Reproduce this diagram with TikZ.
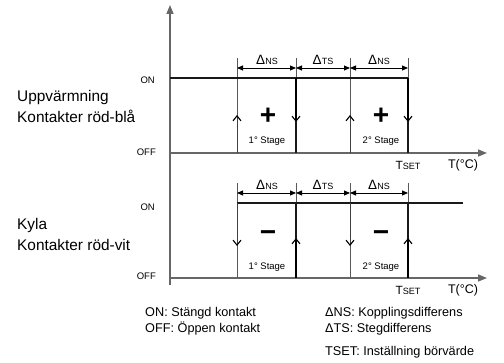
\documentclass[tikz,border=0pt]{standalone}
\usepackage{fontspec}
\setmainfont{Liberation Sans}
\usetikzlibrary{arrows.meta}
\tikzset{
  axisline/.style={draw=black!60, line width=1.5pt, -{Triangle[length=9pt,width=7pt]}},
  guide/.style={draw=black!65, line width=0.7pt},
  levelline/.style={draw=black!90, line width=1.1pt},
  dimarrow/.style={line width=0.9pt, {Triangle[length=6pt,width=5pt]}-{Triangle[length=6pt,width=5pt]}},
  dirarrow/.style={line width=1.1pt, -{Straight Barb[length=5pt,width=8pt]}},
  thinarrow/.style={draw=black!75, line width=0.7pt, -{Straight Barb[length=5pt,width=8pt,line width=1.1pt,color=black]}},
  biglabel/.style={font=\fontsize{15.4}{18}\selectfont, align=left, inner sep=0pt},
  smalllabel/.style={font=\fontsize{9.5}{11}\selectfont, inner sep=0pt},
  legend/.style={font=\fontsize{12.7}{16}\selectfont, inner sep=0pt, anchor=west},
  signlabel/.style={font=\fontsize{28}{30}\selectfont\bfseries, inner sep=0pt},
}
\newcommand{\dNS}{{\fontsize{13.5}{14}\selectfont Δ}{\fontsize{9}{10}\selectfont NS}}
\newcommand{\dTS}{{\fontsize{13.5}{14}\selectfont Δ}{\fontsize{9}{10}\selectfont TS}}
\newcommand{\tSet}{{\fontsize{11.9}{13}\selectfont T}{\fontsize{9.1}{10}\selectfont SET}}
\begin{document}
\begin{tikzpicture}[x=1pt,y=-1pt]
\useasboundingbox (0,0) rectangle (504,363);
% axes
\coordinate (yb) at (170,285);
\coordinate (yt) at (170,5);
\coordinate (a1s) at (170,153);
\coordinate (a1e) at (487,153);
\coordinate (a2s) at (170,278);
\coordinate (a2e) at (487,278);
\draw[axisline] (yb) -- (yt);
\draw[axisline] (a1s) -- (a1e);
\draw[axisline] (a2s) -- (a2e);

% vertical guide lines
\foreach \x/\n in {237/1,296/2,350/3,408/4}{
  \coordinate (u\n t) at (\x,58);
  \coordinate (u\n b) at (\x,153);
  \coordinate (l\n t) at (\x,183);
  \coordinate (l\n b) at (\x,278);
  \draw[guide] (u\n t) -- (u\n b);
  \draw[guide] (l\n t) -- (l\n b);
}

% upper: heating
\coordinate (on1s) at (170,78);
\coordinate (on1e) at (408,78);
\draw[levelline] (on1s) -- (on1e);
\coordinate (u2on) at (296,78);
\coordinate (u4on) at (408,78);
\coordinate (u2tip) at (296,122);
\coordinate (u4tip) at (408,122);
\coordinate (u1tip) at (237,115);
\coordinate (u3tip) at (350,115);
\draw[levelline] (u2on) -- (u2b);
\draw[levelline] (u4on) -- (u4b);
\draw[dirarrow] (u2on) -- (u2tip);
\draw[dirarrow] (u4on) -- (u4tip);
\draw[thinarrow] (u1b) -- (u1tip);
\draw[thinarrow] (u3b) -- (u3tip);

% dimension arrows upper
\coordinate (d1) at (237,68);
\coordinate (d2) at (296,68);
\coordinate (d3) at (350,68);
\coordinate (d4) at (408,68);
\draw[dimarrow] (d1) -- (d2);
\draw[dimarrow] (d2) -- (d3);
\draw[dimarrow] (d3) -- (d4);
\node[inner sep=0pt] (un1) at (267,60) {\dNS};
\node[inner sep=0pt] (un2) at (323,60) {\dTS};
\node[inner sep=0pt] (un3) at (379,60) {\dNS};
\node[signlabel] (plus1) at (268,116) {+};
\node[signlabel] (plus2) at (381,116) {+};
\node[smalllabel] (us1) at (267,141) {1° Stage};
\node[smalllabel] (us2) at (381,141) {2° Stage};
\node[inner sep=0pt] (ut) at (408,165) {\tSet};
\node[inner sep=0pt, font=\fontsize{12.5}{14}\selectfont] (utc) at (463,165) {T(°C)};

% lower: cooling
\coordinate (on2s) at (237,203);
\coordinate (on2e) at (463,203);
\draw[levelline] (on2s) -- (on2e);
\coordinate (l1on) at (237,203);
\coordinate (l3on) at (350,203);
\coordinate (l2on) at (296,203);
\coordinate (l4on) at (408,203);
\coordinate (l1tip) at (237,246);
\coordinate (l3tip) at (350,246);
\coordinate (l2tip) at (296,238);
\coordinate (l4tip) at (408,238);
\draw[levelline] (l2on) -- (l2b);
\draw[levelline] (l4on) -- (l4b);
\draw[thinarrow] (l1on) -- (l1tip);
\draw[thinarrow] (l3on) -- (l3tip);
\draw[dirarrow] (l2b) -- (l2tip);
\draw[dirarrow] (l4b) -- (l4tip);

\coordinate (e1) at (237,193);
\coordinate (e2) at (296,193);
\coordinate (e3) at (350,193);
\coordinate (e4) at (408,193);
\draw[dimarrow] (e1) -- (e2);
\draw[dimarrow] (e2) -- (e3);
\draw[dimarrow] (e3) -- (e4);
\node[inner sep=0pt] (ln1) at (267,185) {\dNS};
\node[inner sep=0pt] (ln2) at (323,185) {\dTS};
\node[inner sep=0pt] (ln3) at (379,185) {\dNS};
\node[signlabel] (minus1) at (268,236) {−};
\node[signlabel] (minus2) at (381,236) {−};
\node[smalllabel] (ls1) at (267,267) {1° Stage};
\node[smalllabel] (ls2) at (381,267) {2° Stage};
\node[inner sep=0pt] (lt) at (408,290) {\tSet};
\node[inner sep=0pt, font=\fontsize{12.5}{14}\selectfont] (ltc) at (463,290) {T(°C)};

% left labels
\node[smalllabel, anchor=east] (uon) at (155,80) {ON};
\node[smalllabel, anchor=east] (uoff) at (156,152) {OFF};
\node[smalllabel, anchor=east] (lon) at (155,207) {ON};
\node[smalllabel, anchor=east] (loff) at (156,276) {OFF};
\node[biglabel, anchor=west] (heat1) at (17,98) {Uppvärmning};
\node[biglabel, anchor=west] (heat2) at (17,116) {Kontakter röd-blå};
\node[biglabel, anchor=west] (cool1) at (17,226) {Kyla};
\node[biglabel, anchor=west] (cool2) at (17,245) {Kontakter röd-vit};

% legend
\node[legend] (lg1) at (145,313) {ON: Stängd kontakt};
\node[legend] (lg2) at (145,329) {OFF: Öppen kontakt};
\node[legend] (lg3) at (325,313) {ΔNS: Kopplingsdifferens};
\node[legend] (lg4) at (325,329) {ΔTS: Stegdifferens};
\node[legend] (lg5) at (325,352) {TSET: Inställning börvärde};
\end{tikzpicture}
\end{document}
